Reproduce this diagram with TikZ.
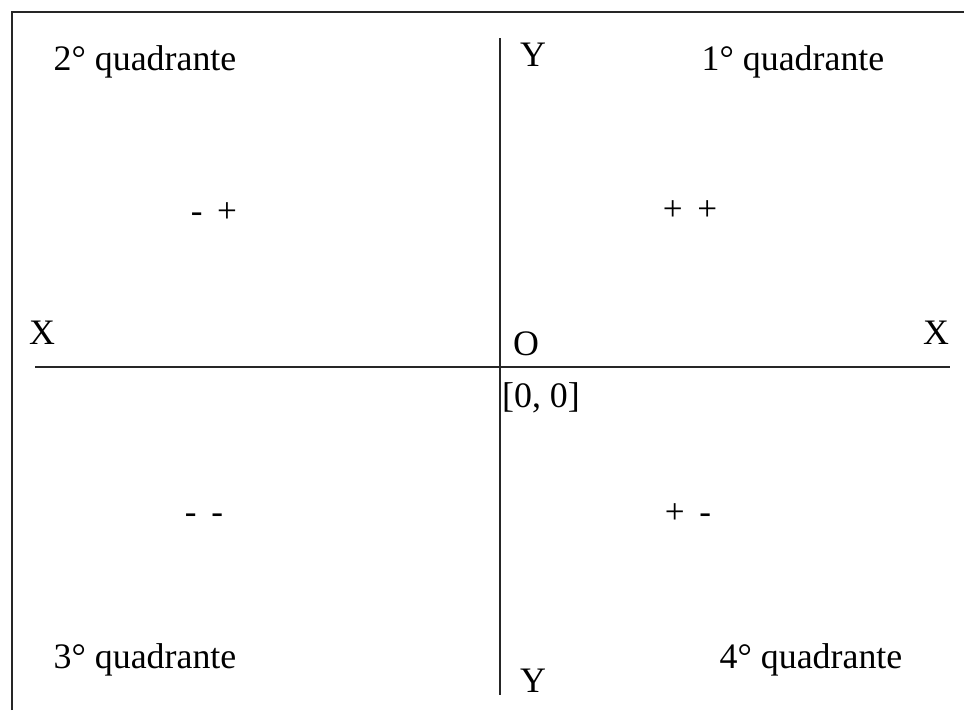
\documentclass[tikz,border=0pt]{standalone}
\usepackage{fontspec}
\setmainfont{Liberation Serif}
\usetikzlibrary{positioning}

\begin{document}
\begin{tikzpicture}[
    x=0.025cm, y=-0.025cm,
    etichetta/.style={font=\fontsize{25.5}{29}\selectfont, inner sep=0pt},
    segni/.style={font=\fontsize{25}{29}\selectfont, inner sep=0pt},
    asse/.style={line width=1.4pt, draw=black!85}
]
    \useasboundingbox (0, 0) rectangle (964, 710);

    % 1. Cornice (solo lati superiore e sinistro)
    \draw[line width=2pt, draw=black!85] (12, 710) -- (12, 12) -- (964, 12);

    % 2. Assi cartesiani
    \coordinate (xsx) at (35, 367);
    \coordinate (xdx) at (950, 367);
    \coordinate (ysu) at (500, 38);
    \coordinate (ygiu) at (500, 695);
    \draw[asse] (xsx) -- (xdx);
    \draw[asse] (ysu) -- (ygiu);

    % 3. Etichette degli assi e origine
    \node[etichetta] (ytop) at (533, 55) {Y};
    \node[etichetta] (ybot) at (533, 681) {Y};
    \node[etichetta] (xleft) at (42, 333) {X};
    \node[etichetta] (xright) at (936, 333) {X};
    \node[etichetta] (origine) at (526, 344) {O};
    \node[etichetta] (zero) at (541, 398) {[0, 0]};

    % 4. Nomi dei quadranti
    \node[etichetta] (q1) at (793, 62) {1° quadrante};
    \node[etichetta] (q2) at (145, 62) {2° quadrante};
    \node[etichetta] (q3) at (145, 660) {3° quadrante};
    \node[etichetta] (q4) at (811, 660) {4° quadrante};

    % 5. Segni delle coordinate
    \node[segni] (s1) at (690, 211) {+ \,+};
    \node[segni] (s2) at (214, 213) {- \,+};
    \node[segni] (s3) at (204, 519) {- \,-};
    \node[segni] (s4) at (688, 514) {+ \,-};

\end{tikzpicture}
\end{document}
